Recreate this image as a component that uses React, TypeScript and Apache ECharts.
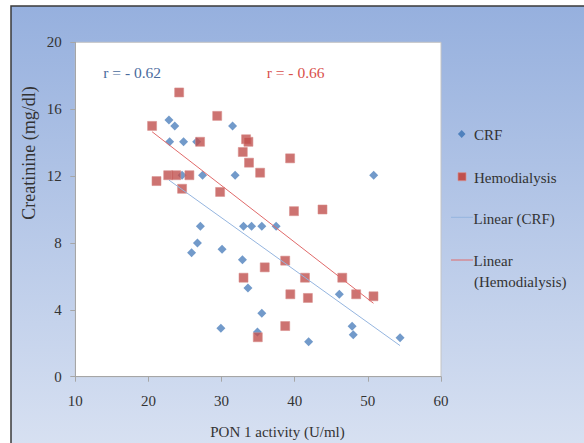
import React, { useEffect, useRef } from "react";
import * as echarts from "echarts";

// ---- data ----
const crfX = [22.8, 23.6, 31.5, 22.9, 24.8, 26.6, 24.6, 27.4, 31.85, 50.8, 27.1, 33.0, 34.1, 35.5, 37.46, 26.7, 25.9, 30.07, 32.85, 33.6, 46.1, 35.5, 29.9, 34.9, 47.85, 48.0, 41.9, 54.4];
const crfY = [15.35, 15.0, 15.0, 14.05, 14.05, 14.05, 12.05, 12.05, 12.05, 12.05, 9.0, 9.0, 9.0, 9.0, 9.0, 8.0, 7.42, 7.62, 7.0, 5.3, 4.93, 3.79, 2.9, 2.67, 3.01, 2.51, 2.09, 2.33];

const hemoX = [24.2, 20.5, 29.4, 27.06, 33.35, 33.67, 32.9, 33.75, 39.37, 35.27, 21.1, 22.7, 23.8, 25.6, 24.6, 29.8, 39.9, 43.8, 38.7, 35.9, 33.0, 41.4, 46.5, 39.4, 41.8, 48.4, 50.77, 38.7, 34.95];
const hemoY = [17.0, 15.0, 15.6, 14.05, 14.2, 14.05, 13.44, 12.8, 13.06, 12.2, 11.7, 12.05, 12.05, 12.05, 11.24, 11.05, 9.9, 10.0, 6.94, 6.54, 5.92, 5.92, 5.92, 4.93, 4.71, 4.93, 4.81, 3.03, 2.36];

// trend line end points (x, y) as drawn
const crfTrendX = [22.8, 54.4];
const crfTrendY = [11.76, 1.86];
const hemoTrendX = [20.5, 50.77];
const hemoTrendY = [14.65, 4.39];

const seriesNames = ["CRF", "Hemodialysis", "Linear (CRF)", "Linear (Hemodialysis)"];
const rLabels = ["r = - 0.62", "r = - 0.66"];
const xAxisTitle = "PON 1 activity (U/ml)";
const yAxisTitle = "Creatinine (mg/dl)";
const xMin = 10, xMax = 60, xStep = 10;
const yMin = 0, yMax = 20, yStep = 4;

const zip = (xs: number[], ys: number[]) => xs.map((x, i) => [x, ys[i]]);

const FONT = "'Liberation Serif', 'Times New Roman', serif";
const TEXT = "#333333";

export default function App() {
  const ref = useRef<HTMLDivElement>(null);
  useEffect(() => {
    if (!ref.current) return;
    const chart = echarts.init(ref.current, undefined, { renderer: "svg" });
    const gradient = new echarts.graphic.LinearGradient(0, 0, 0, 1, [
      { offset: 0, color: "#96b0de" },
      { offset: 1, color: "#e0e7f4" },
    ]);
    const legendText = (text: string, x: number, y: number) => ({
      type: "text",
      x,
      y,
      style: { text, font: `15px ${FONT}`, fill: TEXT, align: "left", verticalAlign: "middle" },
    });
    chart.setOption({
      animation: false,
      backgroundColor: "transparent",
      textStyle: { fontFamily: FONT },
      grid: {
        left: 75.3,
        top: 42.3,
        width: 365.7,
        height: 334.4,
        show: true,
        backgroundColor: "#ffffff",
        borderColor: "#c4c4c4",
        borderWidth: 1,
        containLabel: false,
      },
      xAxis: {
        type: "value",
        min: xMin,
        max: xMax,
        interval: xStep,
        splitLine: { show: false },
        axisLine: { show: true, lineStyle: { color: "#a6a6a6" } },
        axisTick: { show: true, length: 5, lineStyle: { color: "#a6a6a6" } },
        axisLabel: { margin: 17, fontSize: 15, color: TEXT, fontFamily: FONT },
      },
      yAxis: {
        type: "value",
        min: yMin,
        max: yMax,
        interval: yStep,
        splitLine: { show: false },
        axisLine: { show: true, lineStyle: { color: "#a6a6a6" } },
        axisTick: { show: true, length: 5, lineStyle: { color: "#a6a6a6" } },
        axisLabel: { margin: 13.5, fontSize: 15, color: TEXT, fontFamily: FONT },
      },
      series: [
        {
          name: seriesNames[0],
          type: "scatter",
          symbol: "diamond",
          symbolSize: 9,
          itemStyle: { color: "#4f81bd" },
          data: zip(crfX, crfY),
          z: 2,
        },
        {
          name: seriesNames[1],
          type: "scatter",
          symbol: "rect",
          symbolSize: 9,
          itemStyle: { color: "#c0504d", borderColor: "#d88c8a", borderWidth: 0.7 },
          data: zip(hemoX, hemoY),
          z: 3,
        },
        {
          name: seriesNames[2],
          type: "line",
          showSymbol: false,
          symbol: "none",
          silent: true,
          lineStyle: { color: "#95b5df", width: 1 },
          data: zip(crfTrendX, crfTrendY),
          z: 4,
        },
        {
          name: seriesNames[3],
          type: "line",
          showSymbol: false,
          symbol: "none",
          silent: true,
          lineStyle: { color: "#e06a6a", width: 1 },
          data: zip(hemoTrendX, hemoTrendY),
          z: 4,
        },
      ],
      graphic: [
        {
          type: "rect",
          z: -10,
          shape: { x: 11, y: 6, width: 620, height: 500 },
          style: { fill: gradient, stroke: "#3a3a3a", lineWidth: 1.5 },
        },
        {
          type: "text",
          x: 29.3,
          y: 153,
          rotation: Math.PI / 2,
          style: { text: yAxisTitle, font: `18px ${FONT}`, fill: TEXT, align: "center", verticalAlign: "middle" },
        },
        {
          type: "text",
          x: 277.5,
          y: 431.7,
          style: { text: xAxisTitle, font: `15px ${FONT}`, fill: TEXT, align: "center", verticalAlign: "middle" },
        },
        {
          type: "text",
          x: 103.3,
          y: 72.3,
          style: { text: rLabels[0], font: `15.5px ${FONT}`, fill: "#4a6b9d", align: "left", verticalAlign: "middle" },
        },
        {
          type: "text",
          x: 266.7,
          y: 72.3,
          style: { text: rLabels[1], font: `15.5px ${FONT}`, fill: "#d9504c", align: "left", verticalAlign: "middle" },
        },
        // legend
        {
          type: "polygon",
          shape: { points: [[461.7, 130], [465.5, 134], [461.7, 138], [457.9, 134]] },
          style: { fill: "#4f81bd" },
        },
        legendText(seriesNames[0], 474, 135),
        {
          type: "rect",
          shape: { x: 458, y: 172.7, width: 8, height: 8 },
          style: { fill: "#c0504d", stroke: "#d88c8a", lineWidth: 0.7 },
        },
        legendText(seriesNames[1], 474, 177.7),
        {
          type: "line",
          shape: { x1: 451, y1: 217.3, x2: 473, y2: 217.3 },
          style: { stroke: "#95b5df", lineWidth: 1 },
        },
        legendText(seriesNames[2], 473.5, 219.3),
        {
          type: "line",
          shape: { x1: 451, y1: 260, x2: 473, y2: 260 },
          style: { stroke: "#e06a6a", lineWidth: 1 },
        },
        legendText("Linear", 473.5, 260.7),
        legendText("(Hemodialysis)", 474, 281.7),
      ],
    });
    return () => chart.dispose();
  }, []);
  return (
    <div
      ref={ref}
      style={{ position: "absolute", left: 0, top: 0, width: 584, height: 443, background: "#ffffff" }}
    />
  );
}
